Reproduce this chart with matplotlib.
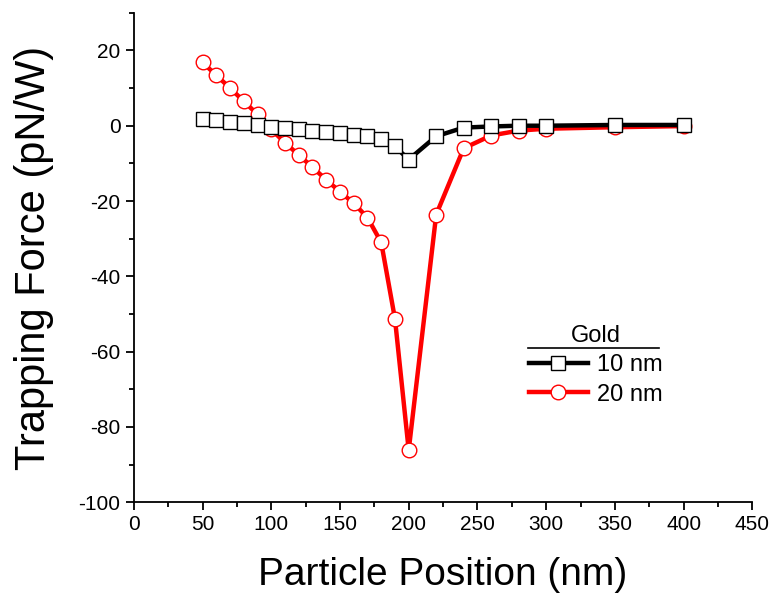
import matplotlib
matplotlib.use('Agg')
import matplotlib.pyplot as plt
from matplotlib.ticker import MultipleLocator

plt.rcParams['font.family'] = ['Liberation Sans', 'DejaVu Sans']
plt.rcParams['axes.unicode_minus'] = False

# particle position (nm)
pos = [50, 60, 70, 80, 90, 100, 110, 120, 130, 140, 150, 160, 170, 180, 190, 200,
       220, 240, 260, 280, 300, 350, 400]
# trapping force (pN/W)
gold10 = [1.8, 1.4, 1.0, 0.6, 0.2, -0.3, -0.6, -1.0, -1.3, -1.7, -2.0, -2.4, -2.7,
          -3.4, -5.5, -9.0, -2.8, -0.5, -0.2, 0.0, 0.0, 0.2, 0.2]
gold20 = [16.8, 13.4, 10.0, 6.5, 3.0, -1.0, -4.5, -7.8, -11.0, -14.4, -17.5, -20.6,
          -24.4, -31.0, -51.3, -86.2, -23.6, -6.0, -2.6, -1.3, -0.8, -0.4, -0.1]
series_labels = ['10 nm', '20 nm']

fig = plt.figure(figsize=(7.78, 6.08), dpi=100)
ax = fig.add_axes([0.172, 0.174, 0.795, 0.805])

ax.plot(pos, gold10, color='black', lw=3.2, marker='s', ms=9.5,
        mfc='white', mec='black', mew=1.0, label=series_labels[0], zorder=3)
ax.plot(pos, gold20, color='red', lw=3.2, marker='o', ms=10.5,
        mfc='white', mec='red', mew=1.0, label=series_labels[1], zorder=2)

ax.set_xlim(0, 450)
ax.xaxis.set_major_locator(MultipleLocator(50))
ax.xaxis.set_minor_locator(MultipleLocator(25))
ax.yaxis.set_minor_locator(MultipleLocator(10))
ax.set_yticks([-100, -80, -60, -40, -20, 0, 20])
ax.set_ylim(-100, 30)
for s in ['top', 'right']:
    ax.spines[s].set_visible(False)
for s in ['left', 'bottom']:
    ax.spines[s].set_linewidth(1.3)
ax.tick_params(which='major', direction='out', length=6, width=1.3, labelsize=15)
ax.tick_params(which='minor', direction='out', length=3.5, width=1.3)

ax.set_xlabel('Particle Position (nm)', fontsize=28, labelpad=16)
ax.set_ylabel('Trapping Force (pN/W)', fontsize=30, labelpad=18)

leg = ax.legend(loc='upper left', bbox_to_anchor=(0.612, 0.395), frameon=False,
                title='Gold', fontsize=17, title_fontsize=17, handlelength=2.5,
                handletextpad=0.4, labelspacing=0.3, borderpad=0.2)
# underline below the legend title
ax.plot([0.637, 0.849], [0.315, 0.315], transform=ax.transAxes, color='black',
        lw=1.2, clip_on=False)

fig.savefig('out.png', dpi=100)
